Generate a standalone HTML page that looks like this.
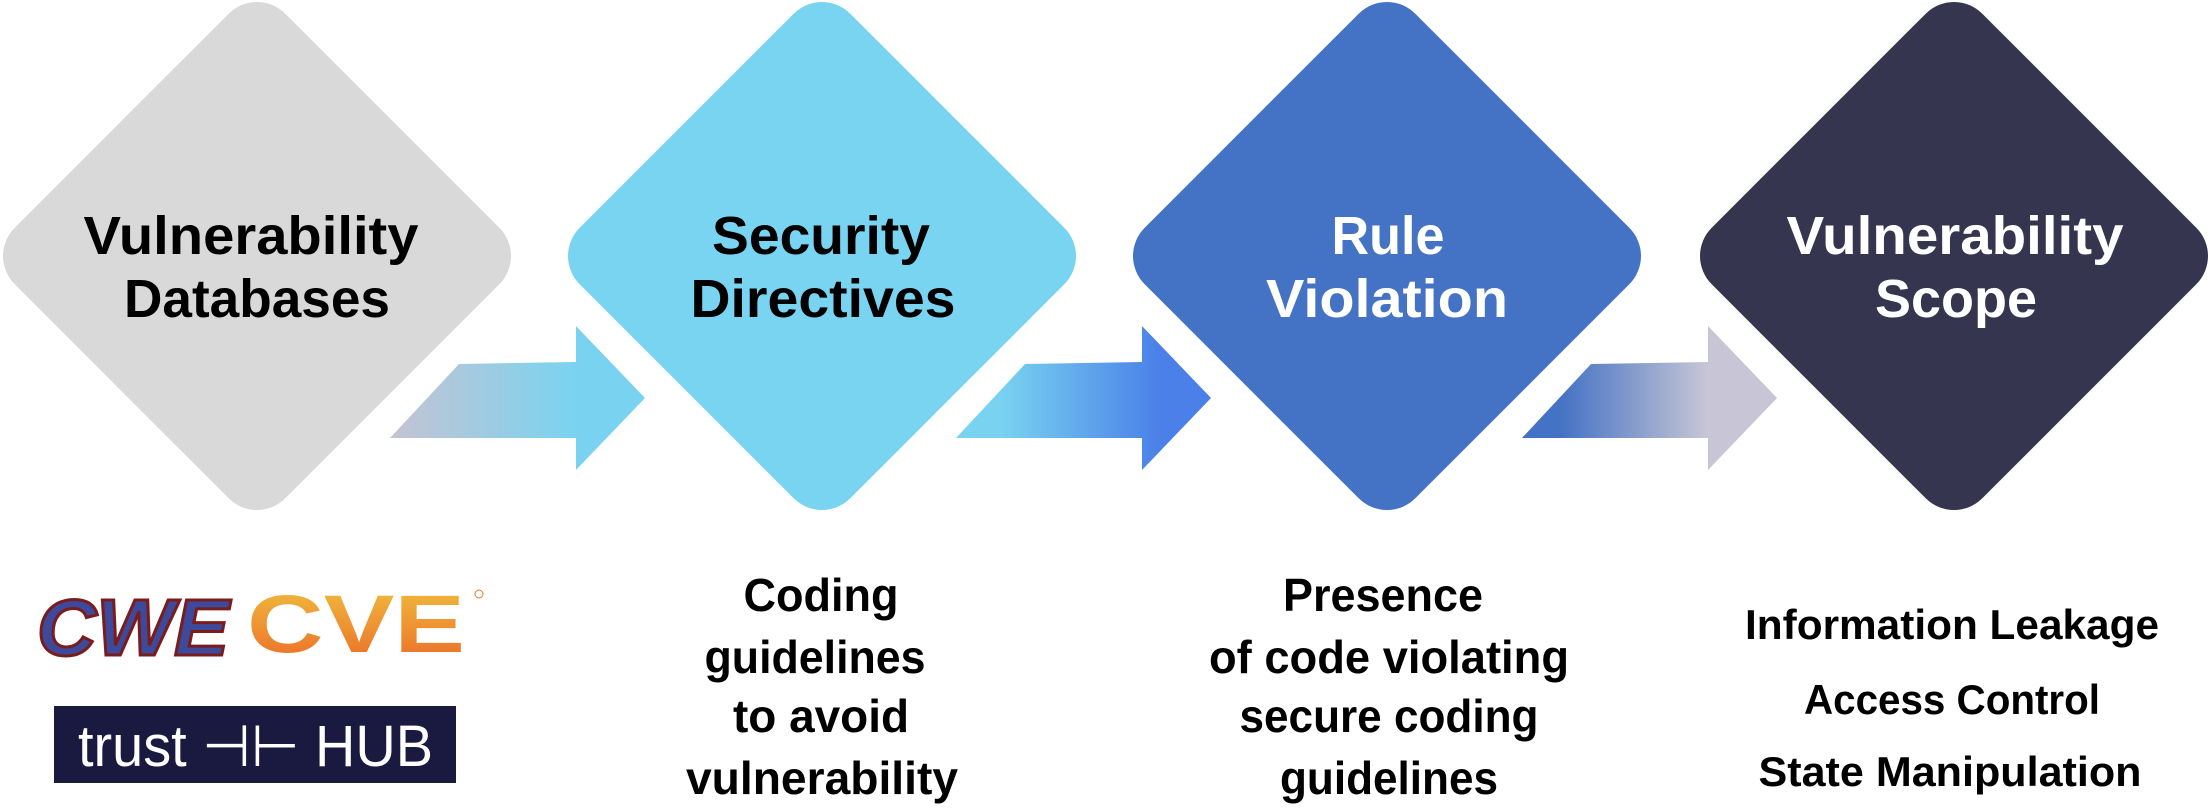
<!DOCTYPE html>
<html><head><meta charset="utf-8"><style>
html,body{margin:0;padding:0;background:#fff;}
svg{display:block;}
text{font-family:"Liberation Sans",sans-serif;font-weight:bold;}
</style></head><body>
<svg width="2210" height="808" viewBox="0 0 2210 808" xmlns="http://www.w3.org/2000/svg">
<defs>
<linearGradient id="g1" x1="390" y1="0" x2="576" y2="0" gradientUnits="userSpaceOnUse"><stop offset="0" stop-color="#c6c3d3"/><stop offset="1" stop-color="#79d3f0"/></linearGradient>
<linearGradient id="g2" x1="1000" y1="0" x2="1160" y2="0" gradientUnits="userSpaceOnUse"><stop offset="0" stop-color="#79d3f0"/><stop offset="1" stop-color="#4a80e8"/></linearGradient>
<linearGradient id="g3" x1="1560" y1="0" x2="1708" y2="0" gradientUnits="userSpaceOnUse"><stop offset="0" stop-color="#4472c4"/><stop offset="1" stop-color="#c8c6d6"/></linearGradient>
<linearGradient id="cve" x1="0" y1="588" x2="0" y2="652" gradientUnits="userSpaceOnUse"><stop offset="0" stop-color="#f0b83c"/><stop offset="1" stop-color="#ec7a2c"/></linearGradient>
</defs>
<polygon points="390,438 459,364 576,362 576,326 645,398 576,470 576,438" fill="url(#g1)"/>
<polygon points="956,438 1025,364 1142,362 1142,326 1211,398 1142,470 1142,438" fill="url(#g2)"/>
<polygon points="1522,438 1591,364 1708,362 1708,326 1777,398 1708,470 1708,438" fill="url(#g3)"/>
<g stroke-linejoin="round" stroke-width="80">
<polygon points="257,42 471,256 257,470 43,256" fill="#d9d9d9" stroke="#d9d9d9"/>
<polygon points="822,42 1036,256 822,470 608,256" fill="#79d4f1" stroke="#79d4f1"/>
<polygon points="1387,42 1601,256 1387,470 1173,256" fill="#4472c4" stroke="#4472c4"/>
<polygon points="1954,42 2168,256 1954,470 1740,256" fill="#353550" stroke="#353550"/>
</g>
<g font-size="54" text-anchor="middle">
<text x="251" y="254" textLength="335" lengthAdjust="spacingAndGlyphs" fill="#000">Vulnerability</text>
<text x="257" y="317" textLength="266" lengthAdjust="spacingAndGlyphs" fill="#000">Databases</text>
<text x="821" y="254" textLength="218" lengthAdjust="spacingAndGlyphs" fill="#000">Security</text>
<text x="823" y="317" textLength="265" lengthAdjust="spacingAndGlyphs" fill="#000">Directives</text>
<text x="1388" y="254" textLength="113" lengthAdjust="spacingAndGlyphs" fill="#fff">Rule</text>
<text x="1387" y="317" textLength="242" lengthAdjust="spacingAndGlyphs" fill="#fff">Violation</text>
<text x="1955" y="254" textLength="337" lengthAdjust="spacingAndGlyphs" fill="#fff">Vulnerability</text>
<text x="1956" y="317" textLength="162" lengthAdjust="spacingAndGlyphs" fill="#fff">Scope</text>
</g>
<g font-size="46" text-anchor="middle" fill="#000">
<text x="821" y="611" textLength="155" lengthAdjust="spacingAndGlyphs">Coding</text>
<text x="815" y="673" textLength="221" lengthAdjust="spacingAndGlyphs">guidelines</text>
<text x="821" y="732" textLength="176" lengthAdjust="spacingAndGlyphs">to avoid</text>
<text x="822" y="794" textLength="272" lengthAdjust="spacingAndGlyphs">vulnerability</text>
<text x="1383" y="611" textLength="200" lengthAdjust="spacingAndGlyphs">Presence</text>
<text x="1389" y="673" textLength="360" lengthAdjust="spacingAndGlyphs">of code violating</text>
<text x="1389" y="732" textLength="299" lengthAdjust="spacingAndGlyphs">secure coding</text>
<text x="1389" y="794" textLength="218" lengthAdjust="spacingAndGlyphs">guidelines</text>
</g>
<g font-size="42" text-anchor="middle" fill="#000">
<text x="1952" y="639" textLength="414" lengthAdjust="spacingAndGlyphs">Information Leakage</text>
<text x="1952" y="714" textLength="296" lengthAdjust="spacingAndGlyphs">Access Control</text>
<text x="1950" y="786" textLength="383" lengthAdjust="spacingAndGlyphs">State Manipulation</text>
</g>
<text x="37" y="655" font-size="80" font-style="italic" textLength="192" lengthAdjust="spacingAndGlyphs" fill="#3d4a9c" stroke="#7a1c1c" stroke-width="3">CWE</text>
<text x="247" y="652" font-size="82" textLength="218" lengthAdjust="spacingAndGlyphs" fill="url(#cve)">CVE</text>
<circle cx="479" cy="594" r="4" fill="none" stroke="#ec7a2c" stroke-width="1"/>
<rect x="54" y="706" width="402" height="77" fill="#1a1a40"/>
<text x="78" y="766" font-size="58" style="font-weight:normal" textLength="355" lengthAdjust="spacingAndGlyphs" fill="#fff">trust ⊣⊢ HUB</text>
</svg>
</body></html>
